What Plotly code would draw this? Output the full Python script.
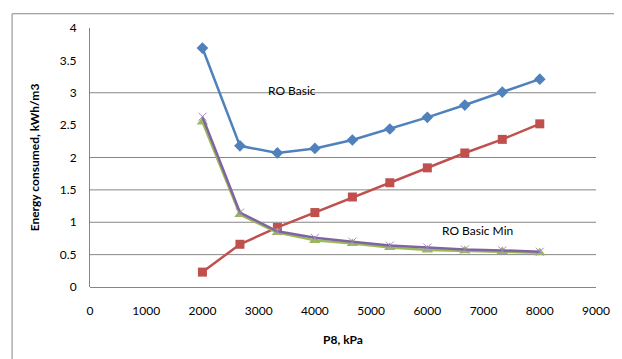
import plotly.graph_objects as go

p8 = [2000, 2667, 3333, 4000, 4667, 5333, 6000, 6667, 7333, 8000]
ro_basic = [3.69, 2.18, 2.07, 2.14, 2.27, 2.44, 2.62, 2.81, 3.01, 3.21]
series_red = [0.23, 0.66, 0.92, 1.15, 1.39, 1.61, 1.84, 2.07, 2.28, 2.52]
ro_basic_min = [2.55, 1.12, 0.84, 0.72, 0.67, 0.61, 0.57, 0.56, 0.55, 0.53]
series_purple = [2.63, 1.15, 0.86, 0.76, 0.70, 0.64, 0.61, 0.58, 0.565, 0.545]

x_ticks = [0, 1000, 2000, 3000, 4000, 5000, 6000, 7000, 8000, 9000]
y_ticks = [0, 0.5, 1, 1.5, 2, 2.5, 3, 3.5, 4]
y_tick_text = ["0", "0.5", "1", "1.5", "2", "2.5", "3", "3.5", "4"]
grid_values = [0.5, 1, 1.5, 2, 3]

FONT = "Lato"
fig = go.Figure()
fig.add_trace(go.Scatter(x=p8, y=ro_basic, mode="lines+markers",
                         line=dict(color="#4F81BD", width=2.5),
                         marker=dict(symbol="diamond", size=9, color="#4F81BD")))
fig.add_trace(go.Scatter(x=p8, y=series_red, mode="lines+markers",
                         line=dict(color="#C0504D", width=2.5),
                         marker=dict(symbol="square", size=9, color="#C0504D")))
fig.add_trace(go.Scatter(x=p8, y=ro_basic_min, mode="lines+markers",
                         line=dict(color="#9BBB59", width=2.5),
                         marker=dict(symbol="triangle-up", size=10, color="#9BBB59")))
fig.add_trace(go.Scatter(x=p8, y=series_purple, mode="lines+markers",
                         line=dict(color="#8064A2", width=2.5),
                         marker=dict(symbol="x-thin", size=8,
                                     line=dict(color="#A08CC0", width=1))))

shapes = []
for g in grid_values:
    shapes.append(dict(type="line", xref="paper", x0=0, x1=1, yref="y", y0=g, y1=g,
                       line=dict(color="#868686", width=1), layer="below"))
# outer chart border
shapes.append(dict(type="rect", xref="paper", yref="paper",
                   x0=-0.154, x1=1.1, y0=-0.4, y1=1.055,
                   line=dict(color="#868686", width=1)))
fig.update_layout(shapes=shapes)

fig.add_annotation(x=3596, y=3.04, text="RO Basic", showarrow=False,
                   font=dict(family=FONT, size=12, color="#000000"))
fig.add_annotation(x=6889, y=0.875, text="RO Basic Min", showarrow=False,
                   font=dict(family=FONT, size=12, color="#000000"))

fig.update_xaxes(range=[0, 9000], tickvals=x_ticks, showgrid=False, zeroline=False,
                 showline=False, ticks="", ticklabelstandoff=15,
                 tickfont=dict(family=FONT, size=12, color="#000000"),
                 title=dict(text="<b>P8, kPa</b>", font=dict(family=FONT, size=12, color="#000000"),
                            standoff=18))
fig.update_yaxes(range=[0, 4], tickvals=y_ticks, ticktext=y_tick_text, showgrid=False,
                 zeroline=True, zerolinecolor="#868686", zerolinewidth=1,
                 showline=True, linecolor="#868686", linewidth=1, ticks="",
                 ticklabelstandoff=10,
                 tickfont=dict(family=FONT, size=12, color="#000000"),
                 title=dict(text="<b>Energy consumed, kWh/m3</b>",
                            font=dict(family=FONT, size=12, color="#000000"), standoff=17))

fig.update_layout(width=614, height=351, showlegend=False,
                  margin=dict(l=82, r=20, t=15, b=72),
                  paper_bgcolor="white", plot_bgcolor="white")
fig.write_html("out.html")
